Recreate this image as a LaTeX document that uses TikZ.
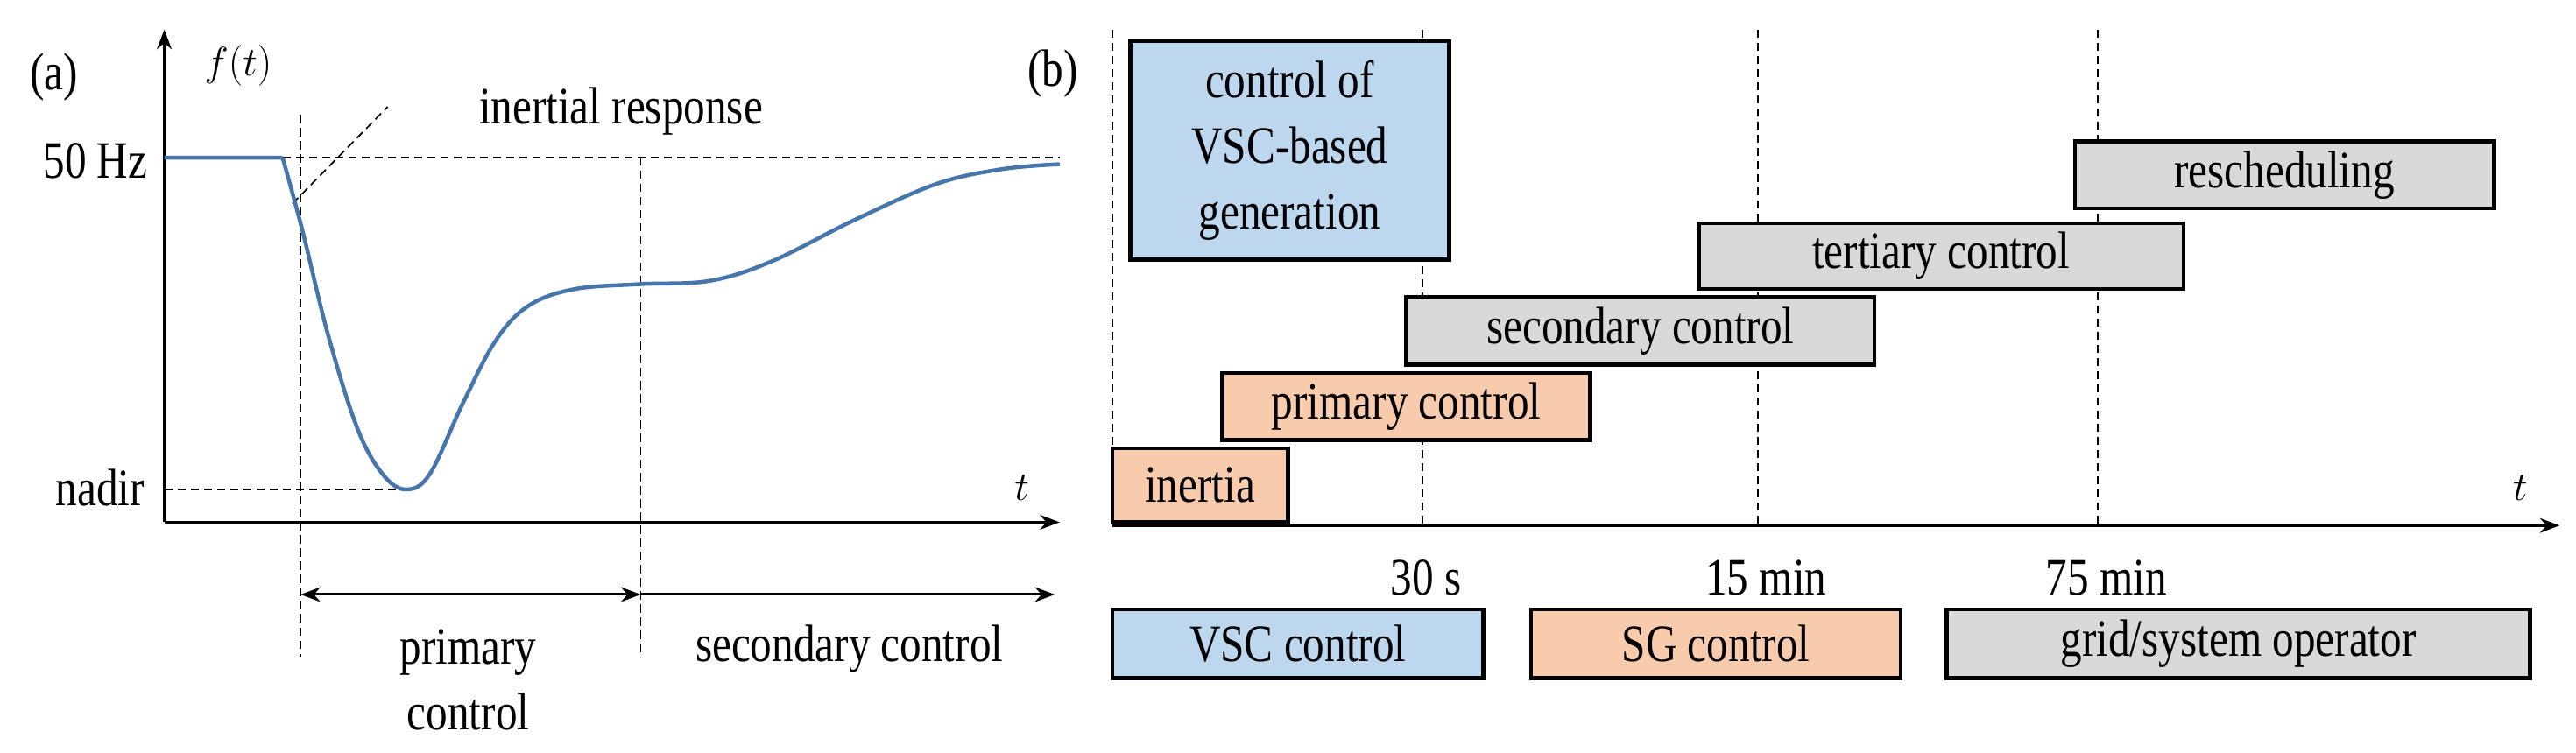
\documentclass[tikz,border=0pt]{standalone}
\usepackage{fontspec}
\setmainfont{Liberation Serif}[FakeStretch=0.82]
\usetikzlibrary{arrows.meta}
\definecolor{bl}{RGB}{189,215,238}
\definecolor{og}{RGB}{248,203,173}
\definecolor{gr}{RGB}{217,217,217}
\definecolor{cv}{RGB}{70,118,172}
\begin{document}
\begin{tikzpicture}[x=1pt,y=-1pt,
  every node/.style={font=\fontsize{32}{40}\selectfont, inner sep=0pt},
  box/.style={draw=black, line width=2.4pt, align=center, inner sep=0pt},
  dsh/.style={dashed, line width=0.9pt, dash pattern=on 5pt off 3pt},
  ax/.style={line width=1.6pt, -{Stealth[length=12pt,width=9pt]}}]
\useasboundingbox (0,0) rectangle (1568,458);
% panel a
\coordinate (o) at (100,318);
\coordinate (yt) at (100,18);
\coordinate (xt) at (645,318);
\draw[ax] (o) -- (yt);
\draw[ax] (o) -- (xt);
\coordinate (h1) at (100,96); \coordinate (h2) at (645,96);
\draw[dsh] (h1) -- (h2);
\coordinate (n1) at (100,298); \coordinate (n2) at (248,298);
\draw[dsh] (n1) -- (n2);
\coordinate (v1a) at (183,70); \coordinate (v1b) at (183,400);
\draw[dsh] (v1a) -- (v1b);
\coordinate (v2a) at (390,96); \coordinate (v2b) at (390,400);
\draw[dsh] (v2a) -- (v2b);
\coordinate (l1) at (178,124); \coordinate (l2) at (236,65);
\draw[dsh] (l1) -- (l2);
\draw[cv, line width=2.4pt] (100,96) -- (172,96) plot[smooth, tension=0.6] coordinates {(172,96) (184,140) (200,205) (218,262) (234,290) (248,298) (262,288) (282,245) (302,207) (322,186) (350,176) (390,173) (432,171) (470,159) (520,134) (570,112) (610,103) (645,100)};
\node (a) at (33,47) {(a)};
\node (ft) at (145,40) {$f(t)$};
\node (ir) at (378,68) {inertial response};
\node[anchor=east] (hz) at (90,98) {50 Hz};
\node[anchor=east] (nd) at (88,297) {nadir};
\node (ta) at (622,297) {$t$};
\coordinate (r1) at (183,362); \coordinate (r2) at (390,362); \coordinate (r3) at (642,362);
\draw[line width=1.6pt, {Stealth[length=12pt,width=9pt]}-{Stealth[length=12pt,width=9pt]}] (r1) -- (r2);
\draw[ax] (r2) -- (r3);
\node[align=center] (pc) at (285,414) {primary\\control};
\node (sc) at (517,395) {secondary control};
% panel b
\node (b) at (641,45) {(b)};
\coordinate (bo) at (677,320); \coordinate (bx) at (1558,320);
\draw[ax] (bo) -- (bx);
\node (tb) at (1534,297) {$t$};
\foreach \x/\n in {677/d0,866/d1,1070/d2,1277/d3}{
  \coordinate (\n t) at (\x,18); \coordinate (\n b) at (\x,320);
  \draw[dsh] (\n t) -- (\n b);}
\node[box, fill=bl, minimum width=194pt, minimum height=133pt] (vsc) at (785,91.5) {control of\\VSC-based\\generation};
\node[box, fill=gr, minimum width=255pt, minimum height=41pt] (res) at (1390.5,106.5) {rescheduling};
\node[box, fill=gr, minimum width=295pt, minimum height=40pt] (ter) at (1181.5,156) {tertiary control};
\node[box, fill=gr, minimum width=285pt, minimum height=41pt] (sec) at (998.5,201.5) {secondary control};
\node[box, fill=og, minimum width=224pt, minimum height=41pt] (pri) at (856,247.5) {primary control};
\node[box, fill=og, minimum width=107pt, minimum height=45pt] (ine) at (730.5,295.5) {inertia};
\node (s30) at (868,352) {30 s};
\node (m15) at (1075,352) {15 min};
\node (m75) at (1282,352) {75 min};
\node[box, fill=bl, minimum width=226pt, minimum height=42pt] (kv) at (790,392) {VSC control};
\node[box, fill=og, minimum width=225pt, minimum height=42pt] (ks) at (1044.5,392) {SG control};
\node[box, fill=gr, minimum width=355pt, minimum height=42pt] (kg) at (1362.5,392) {grid/system operator};
\end{tikzpicture}
\end{document}
